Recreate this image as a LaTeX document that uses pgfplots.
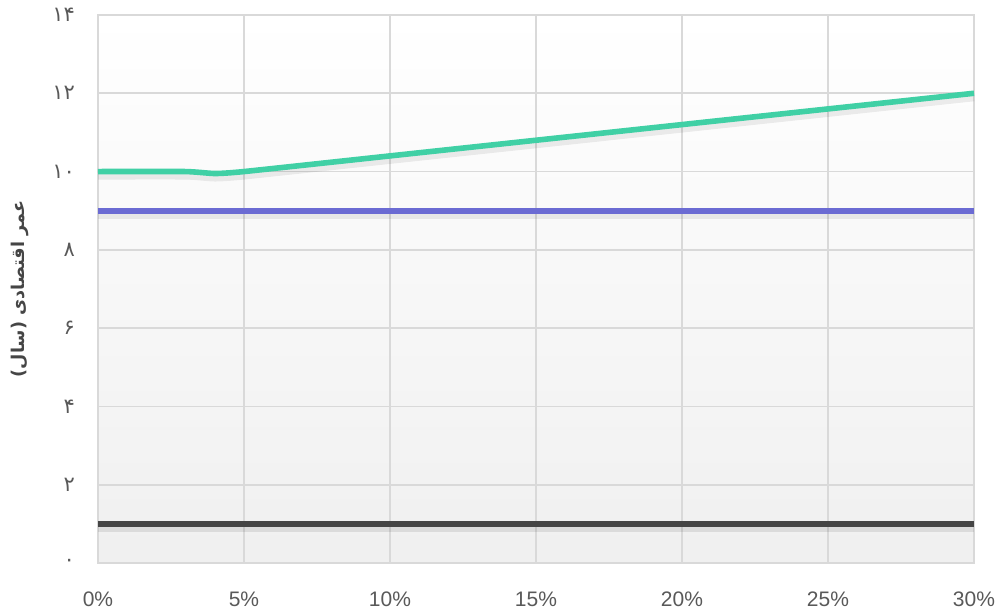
\documentclass[border=0pt]{standalone}
\usepackage{fontspec}
\setmainfont{Liberation Sans}
\newfontfamily\arabicfont[Script=Arabic]{DejaVu Sans}
\TeXXeTstate=1
\usepackage{pgfplots}
\pgfplotsset{compat=1.18}
\definecolor{teal1}{RGB}{64,208,165}
\definecolor{blue1}{RGB}{107,107,211}
\definecolor{dark1}{RGB}{69,69,69}
\definecolor{gridc}{RGB}{217,217,217}
\definecolor{tickc}{RGB}{89,89,89}
\begin{document}
\begin{tikzpicture}
\begin{axis}[
  scale only axis,
  width=438pt, height=274pt,
  xmin=0, xmax=30, ymin=0, ymax=14,
  xtick={0,5,10,15,20,25,30},
  xticklabels={0\%,5\%,10\%,15\%,20\%,25\%,30\%},
  ytick={0,2,4,6,8,10,12,14},
  yticklabels={{\arabicfont ۰},{\arabicfont ۲},{\arabicfont ۴},{\arabicfont ۶},{\arabicfont ۸},{\arabicfont ۱۰},{\arabicfont ۱۲},{\arabicfont ۱۴}},
  xticklabel style={font=\fontsize{10.5}{12}\selectfont, text=tickc, yshift=-11pt},
  yticklabel style={font=\fontsize{10.5}{12}\selectfont, text=tickc, xshift=-8pt},
  major tick length=0pt,
  grid=major,
  grid style={gridc, line width=0.8pt},
  axis line style={gridc, line width=0.8pt},
  axis background/.style={shade, top color=white, bottom color=black!6},
  ylabel={\arabicfont\bfseries\beginR عمر اقتصادی (سال)\endR},
  every axis y label/.style={at={(rel axis cs:0,0.5)}, rotate=90, anchor=center, yshift=39pt, font=\fontsize{8.8}{10}\selectfont, text=dark1},
  clip=false,
]
% shadows
\addplot[black, opacity=0.07, line width=4pt, yshift=-2pt, smooth, tension=0.3] coordinates {(0,10) (3,10) (4,9.95) (5,10) (10,10.4) (15,10.8) (20,11.2) (25,11.6) (30,12)};
\addplot[black, opacity=0.07, line width=4pt, yshift=-2pt] coordinates {(0,9) (30,9)};
\addplot[black, opacity=0.09, line width=4pt, yshift=-2pt] coordinates {(0,1) (30,1)};
% lines
\addplot[teal1, line width=2.8pt, smooth, tension=0.3] coordinates {(0,10) (3,10) (4,9.95) (5,10) (10,10.4) (15,10.8) (20,11.2) (25,11.6) (30,12)};
\addplot[blue1, line width=2.8pt] coordinates {(0,9) (30,9)};
\addplot[dark1, line width=2.8pt] coordinates {(0,1) (30,1)};
\end{axis}
\pgfresetboundingbox
\path[use as bounding box] ([shift={(-49pt,-25pt)}]current axis.south west) rectangle ([shift={(11.5pt,7.5pt)}]current axis.north east);
\end{tikzpicture}
\end{document}
